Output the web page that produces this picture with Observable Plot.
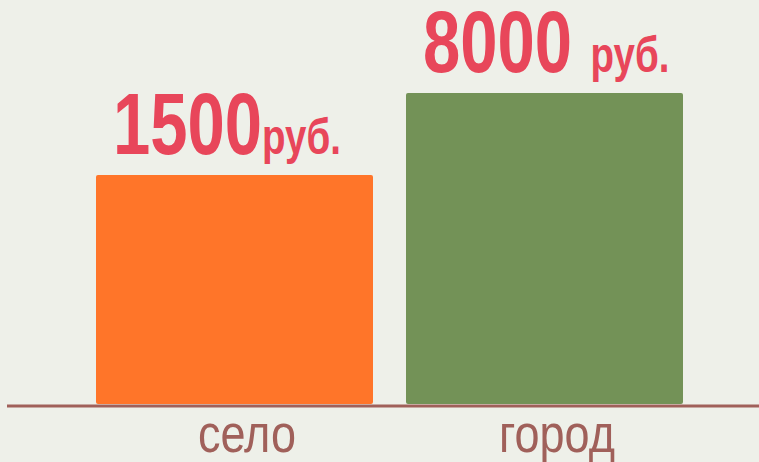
<!DOCTYPE html>
<html>
<head>
<meta charset="utf-8">
<script src="https://cdn.jsdelivr.net/npm/d3@7"></script>
<script src="https://cdn.jsdelivr.net/npm/@observablehq/plot@0.6"></script>
<style>
  html, body { margin: 0; padding: 0; background: #eef0e9; }
  #chart svg { display: block; }
</style>
</head>
<body>
<div id="chart"></div>
<script>
// --- data ---
const categories = ["село", "город"];
const values = [1500, 8000];
const separators = ["", " "];
const units = ["руб.", "руб."];

const data = categories.map((c, i) => ({category: c, value: values[i], sep: separators[i], unit: units[i]}));

const yFloor = 14; // lower bound of the log scale (bars start here)
const font = "'Liberation Sans', Arial, sans-serif";

const plot = Plot.plot({
  width: 759,
  height: 462,
  marginLeft: 7,
  marginRight: 0,
  marginTop: 0,
  marginBottom: 57,
  style: {background: "#eef0e9", fontFamily: font, overflow: "visible"},
  x: {domain: categories, range: [63.4, 716.6], padding: 0.105, axis: null},
  y: {type: "log", domain: [yFloor, 8000], range: [404, 93], axis: null},
  color: {domain: categories, range: ["#ff7529", "#739257"]},
  marks: [
    Plot.barY(data, {x: "category", y1: () => yFloor, y2: "value", fill: "category", rx: 2}),
    Plot.ruleY([yFloor], {stroke: "#a0605a", strokeWidth: 3, dy: 1.5}),
    Plot.axisX({tickSize: 0, tickPadding: 9, fontSize: 53, fill: "#a0605a", dx: 12, label: null}),
    Plot.text(data, {
      x: "category", y: "value",
      text: d => String(d.value) + d.sep,
      textAnchor: "start", lineAnchor: "bottom", dx: -122, dy: -22,
      fill: "#e8465a", fontSize: 87, fontWeight: "bold"
    })
  ]
});

// append the smaller unit after each value label
d3.select(plot).selectAll('g[aria-label="text"] text').each(function(_, i) {
  const t = d3.select(this).style("white-space", "pre");
  t.append("tspan").attr("font-size", 50).text(data[i].unit);
});

// emulate a narrow (condensed) typeface by squeezing text horizontally
function squeeze(selector, s) {
  d3.select(plot).selectAll(selector).each(function() {
    let tr = this.getAttribute("transform") || "";
    const x = this.getAttribute("x");
    if (x != null && isFinite(+x)) {
      tr += ` translate(${+x},0)`;
      this.removeAttribute("x");
    }
    this.setAttribute("transform", `${tr} scale(${s},1)`);
  });
}
squeeze('g[aria-label="text"] text', 0.77);
squeeze('g[aria-label="x-axis tick label"] text', 0.85);

document.getElementById("chart").appendChild(plot);
</script>
</body>
</html>
